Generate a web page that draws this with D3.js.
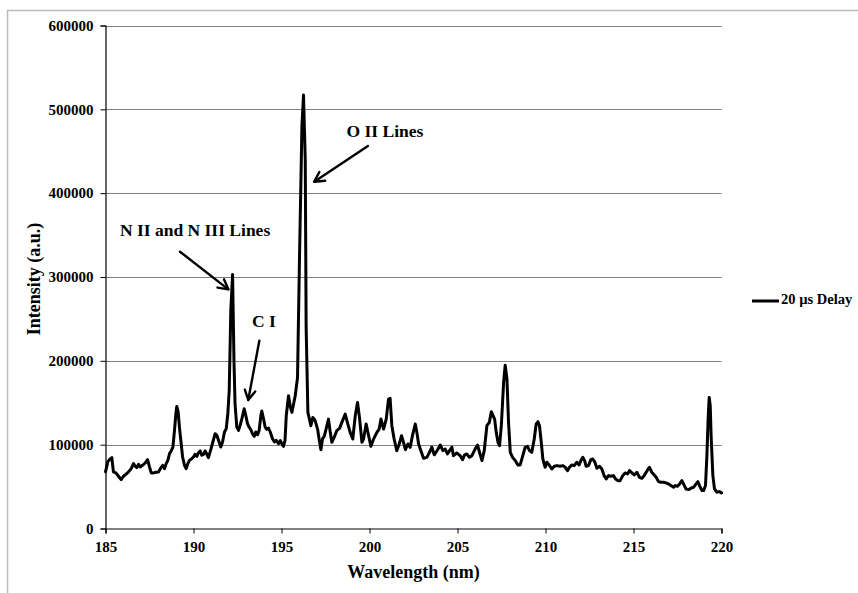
<!DOCTYPE html>
<html>
<head>
<meta charset="utf-8">
<script src="https://cdn.jsdelivr.net/npm/d3@7"></script>
<style>
  html, body { margin: 0; padding: 0; background: #fff; }
  svg { display: block; }
  text { font-family: "Liberation Serif", "Times New Roman", serif; font-weight: bold; fill: #000; }
</style>
</head>
<body>
<svg id="chart" width="858" height="593"></svg>
<script>
// Emission spectrum, 20 µs gate delay
const wavelength = [
  185.0, 185.13, 185.27, 185.36, 185.45, 185.59, 185.74, 185.89, 186.02, 186.16,
  186.31, 186.46, 186.59, 186.69, 186.78, 186.88, 186.97, 187.1, 187.26, 187.39,
  187.5, 187.6, 187.73, 187.86, 188.01, 188.15, 188.26, 188.35, 188.45, 188.54,
  188.64, 188.73, 188.83, 188.92, 189.0, 189.05, 189.13, 189.2, 189.3, 189.38,
  189.49, 189.58, 189.68, 189.77, 189.9, 190.0, 190.09, 190.19, 190.28, 190.38,
  190.47, 190.57, 190.66, 190.76, 190.85, 190.97, 191.1, 191.23, 191.33, 191.42,
  191.55, 191.65, 191.76, 191.86, 191.95, 192.03, 192.12, 192.22, 192.3, 192.36,
  192.46, 192.56, 192.65, 192.75, 192.88, 192.97, 193.07, 193.16, 193.26, 193.35,
  193.45, 193.54, 193.64, 193.73, 193.83, 193.88, 193.98, 194.07, 194.17, 194.26,
  194.36, 194.49, 194.6, 194.7, 194.83, 194.93, 195.02, 195.11, 195.2, 195.27,
  195.4, 195.5, 195.59, 195.7, 195.78, 195.91, 196.02, 196.16, 196.25, 196.35,
  196.4, 196.5, 196.67, 196.78, 196.91, 197.05, 197.16, 197.24, 197.33, 197.44,
  197.58, 197.67, 197.77, 197.86, 197.99, 198.14, 198.3, 198.43, 198.62, 198.77,
  198.9, 199.05, 199.19, 199.32, 199.43, 199.57, 199.66, 199.81, 199.95, 200.08,
  200.23, 200.42, 200.55, 200.65, 200.8, 200.95, 201.08, 201.17, 201.27, 201.4,
  201.55, 201.69, 201.82, 201.93, 202.04, 202.18, 202.31, 202.44, 202.6, 202.69,
  202.79, 202.92, 203.07, 203.26, 203.41, 203.54, 203.68, 203.87, 204.02, 204.17,
  204.3, 204.43, 204.55, 204.68, 204.77, 204.96, 205.15, 205.29, 205.4, 205.53,
  205.68, 205.82, 206.0, 206.14, 206.25, 206.39, 206.52, 206.67, 206.81, 206.92,
  207.02, 207.11, 207.2, 207.3, 207.39, 207.49, 207.62, 207.71, 207.81, 207.9,
  208.0, 208.13, 208.28, 208.43, 208.56, 208.71, 208.84, 208.98, 209.09, 209.22,
  209.36, 209.47, 209.57, 209.66, 209.76, 209.85, 209.98, 210.08, 210.21, 210.36,
  210.5, 210.65, 210.83, 210.99, 211.12, 211.25, 211.36, 211.5, 211.63, 211.78,
  211.91, 212.01, 212.12, 212.22, 212.31, 212.44, 212.58, 212.69, 212.79, 212.92,
  213.07, 213.2, 213.33, 213.45, 213.58, 213.71, 213.86, 213.98, 214.11, 214.24,
  214.39, 214.52, 214.66, 214.77, 214.91, 215.04, 215.19, 215.34, 215.48, 215.61,
  215.72, 215.86, 215.91, 216.04, 216.18, 216.29, 216.42, 216.56, 216.71, 216.84,
  216.99, 217.13, 217.28, 217.37, 217.5, 217.62, 217.75, 217.84, 217.98, 218.13,
  218.26, 218.41, 218.56, 218.66, 218.75, 218.89, 218.98, 219.09, 219.17, 219.24,
  219.3, 219.36, 219.41, 219.51, 219.6, 219.73, 219.88, 220.0
];

const intensity = [
  67500, 79400, 83300, 84500, 67500, 66300, 62300, 58300, 62300, 64700,
  67500, 71400, 77400, 74200, 72600, 76600, 73400, 75400, 78200, 82100,
  73400, 66300, 66300, 67100, 67500, 72600, 75400, 71400, 77400, 81300,
  89300, 92500, 97200, 117000, 136900, 145600, 138900, 121000, 101200, 85300,
  75400, 71400, 77400, 81300, 83300, 85300, 88500, 86100, 90100, 92500,
  87300, 88500, 92500, 88500, 84500, 93200, 103200, 113100, 111100, 105200,
  97200, 103200, 115100, 119000, 136900, 164700, 260000, 303000, 200000, 148800,
  121000, 117000, 123000, 131000, 142800, 134900, 125000, 121000, 117800, 113100,
  109900, 115100, 111900, 117000, 134900, 140100, 130900, 121000, 118200, 119800,
  115100, 107100, 103200, 105200, 101200, 104800, 101200, 98000, 105200, 134500,
  158300, 145000, 138500, 150000, 158300, 180000, 320000, 479000, 517000, 439500,
  240500, 138500, 122600, 132500, 128600, 118600, 103600, 94000, 106700, 110700,
  122600, 130500, 114700, 102800, 108700, 116700, 119400, 126600, 136500, 124600,
  114700, 106700, 134500, 150400, 132500, 102800, 106700, 124600, 110700, 98000,
  106700, 114700, 118600, 130500, 118600, 130500, 154400, 155200, 122600, 106700,
  92800, 100800, 110700, 102800, 94000, 100800, 96800, 110700, 124600, 114700,
  100800, 92800, 83700, 84900, 90900, 97000, 87900, 94000, 99600, 92900,
  94800, 88900, 92900, 96800, 86900, 90100, 86900, 82100, 87700, 88900,
  84900, 86900, 94800, 99600, 90900, 81000, 92900, 122600, 126600, 139300,
  134500, 130500, 114700, 102800, 98800, 122600, 174200, 194800, 178200, 126600,
  90900, 84900, 81000, 75800, 75800, 86900, 96800, 98000, 92900, 90900,
  106700, 124600, 127400, 122600, 102800, 82900, 73000, 79000, 75800, 71000,
  74200, 75000, 74200, 75000, 73000, 69000, 73000, 75800, 75000, 79000,
  75800, 81000, 84900, 81000, 74200, 75000, 82100, 82900, 79800, 71800,
  74200, 71000, 63100, 59100, 63100, 62300, 63100, 59100, 57100, 57100,
  63100, 66300, 65100, 69000, 66300, 63900, 67100, 61100, 59900, 63100,
  67100, 71800, 73000, 67100, 63900, 61100, 55900, 55200, 55200, 54400,
  53200, 51200, 49200, 51200, 50400, 53200, 57100, 53200, 47200, 46400,
  48000, 49200, 53200, 55900, 51200, 45200, 45200, 51200, 86900, 130500,
  156300, 146400, 110700, 63100, 47200, 43300, 44000, 42500
];

const xTicks = [185, 190, 195, 200, 205, 210, 215, 220];
const yTicks = [0, 100000, 200000, 300000, 400000, 500000, 600000];
const seriesName = "20 µs Delay";

// Line annotations: label text, label centre, arrow start and arrow tip (all in data units)
const labelNames = ["O II Lines", "N II and N III Lines", "C I"];
const labelAt = [[200.88, 471800], [190.09, 353700], [194.0, 245100]];
const arrowFrom = [[199.91, 456300], [189.23, 330200], [193.74, 224000]];
const arrowTo = [[196.86, 413700], [191.98, 285300], [193.11, 153300]];

const svg = d3.select("#chart");
const W = 858, H = 593;
const plot = { left: 105.5, right: 721.5, top: 25.5, bottom: 528.5 };

svg.append("rect").attr("width", W).attr("height", H).attr("fill", "#fff");
// chart-area frame
svg.append("rect")
  .attr("x", 7.5).attr("y", 10.5).attr("width", 900).attr("height", 700)
  .attr("fill", "none").attr("stroke", "#bdbdbd").attr("stroke-width", 1.5);

const x = d3.scaleLinear().domain([185, 220]).range([plot.left, plot.right]);
const y = d3.scaleLinear().domain([0, 600000]).range([plot.bottom, plot.top]);

// horizontal gridlines
svg.append("g")
  .selectAll("line")
  .data(yTicks.filter(d => d > 0))
  .join("line")
  .attr("x1", plot.left).attr("x2", plot.right)
  .attr("y1", d => Math.round(y(d)) + 0.5).attr("y2", d => Math.round(y(d)) + 0.5)
  .attr("stroke", "#7f7f7f").attr("stroke-width", 1);

// y axis
const yAxis = svg.append("g")
  .attr("transform", `translate(${plot.left},0)`)
  .call(d3.axisLeft(y).tickValues(yTicks).tickSize(5).tickPadding(7).tickFormat(d3.format("d")));
yAxis.select(".domain").attr("stroke", "#000").attr("stroke-width", 1.2);
yAxis.selectAll(".tick line").attr("stroke", "#000");
yAxis.selectAll(".tick text")
  .attr("font-family", "Liberation Serif").attr("font-weight", "bold").attr("font-size", 15)
  .attr("fill", "#000");

// x axis
const xAxis = svg.append("g")
  .attr("transform", `translate(0,${plot.bottom})`)
  .call(d3.axisBottom(x).tickValues(xTicks).tickSize(5).tickPadding(8).tickFormat(d3.format("d")));
xAxis.select(".domain").attr("stroke", "#000").attr("stroke-width", 1.2);
xAxis.selectAll(".tick line").attr("stroke", "#000");
xAxis.selectAll(".tick text")
  .attr("font-family", "Liberation Serif").attr("font-weight", "bold").attr("font-size", 15)
  .attr("fill", "#000");

// axis titles
svg.append("text")
  .attr("x", (plot.left + plot.right) / 2).attr("y", 578)
  .attr("text-anchor", "middle").attr("font-size", 18)
  .text("Wavelength (nm)");
svg.append("text")
  .attr("transform", `translate(40,${(plot.top + plot.bottom) / 2 + 2}) rotate(-90)`)
  .attr("text-anchor", "middle").attr("font-size", 18)
  .text("Intensity (a.u.)");

// spectrum
const pts = wavelength.map((w, i) => [w, intensity[i]]);
svg.append("path")
  .datum(pts)
  .attr("fill", "none").attr("stroke", "#000").attr("stroke-width", 3)
  .attr("stroke-linejoin", "round").attr("stroke-linecap", "round")
  .attr("d", d3.line().x(d => x(d[0])).y(d => y(d[1])));

// annotations
labelNames.forEach((name, i) => {
  svg.append("text")
    .attr("x", x(labelAt[i][0])).attr("y", y(labelAt[i][1]))
    .attr("text-anchor", "middle").attr("dominant-baseline", "middle")
    .attr("font-size", 17.5)
    .text(name);
  const x0 = x(arrowFrom[i][0]), y0 = y(arrowFrom[i][1]);
  const x1 = x(arrowTo[i][0]), y1 = y(arrowTo[i][1]);
  const ang = Math.atan2(y1 - y0, x1 - x0);
  const len = 11, spread = 0.5;
  const g = svg.append("g").attr("stroke", "#000").attr("stroke-width", 2.4)
    .attr("fill", "none").attr("stroke-linecap", "round").attr("stroke-linejoin", "round");
  g.append("line").attr("x1", x0).attr("y1", y0).attr("x2", x1).attr("y2", y1);
  g.append("path").attr("d", d3.line()([
    [x1 - len * Math.cos(ang - spread), y1 - len * Math.sin(ang - spread)],
    [x1, y1],
    [x1 - len * Math.cos(ang + spread), y1 - len * Math.sin(ang + spread)]
  ]));
});

// legend
const legend = svg.append("g").attr("transform", "translate(752,301)");
legend.append("line").attr("x1", 0).attr("x2", 27).attr("y1", 0).attr("y2", 0)
  .attr("stroke", "#000").attr("stroke-width", 3);
legend.append("text").attr("x", 29).attr("y", 0)
  .attr("dominant-baseline", "middle").attr("font-size", 14.5)
  .text(seriesName);
</script>
</body>
</html>
